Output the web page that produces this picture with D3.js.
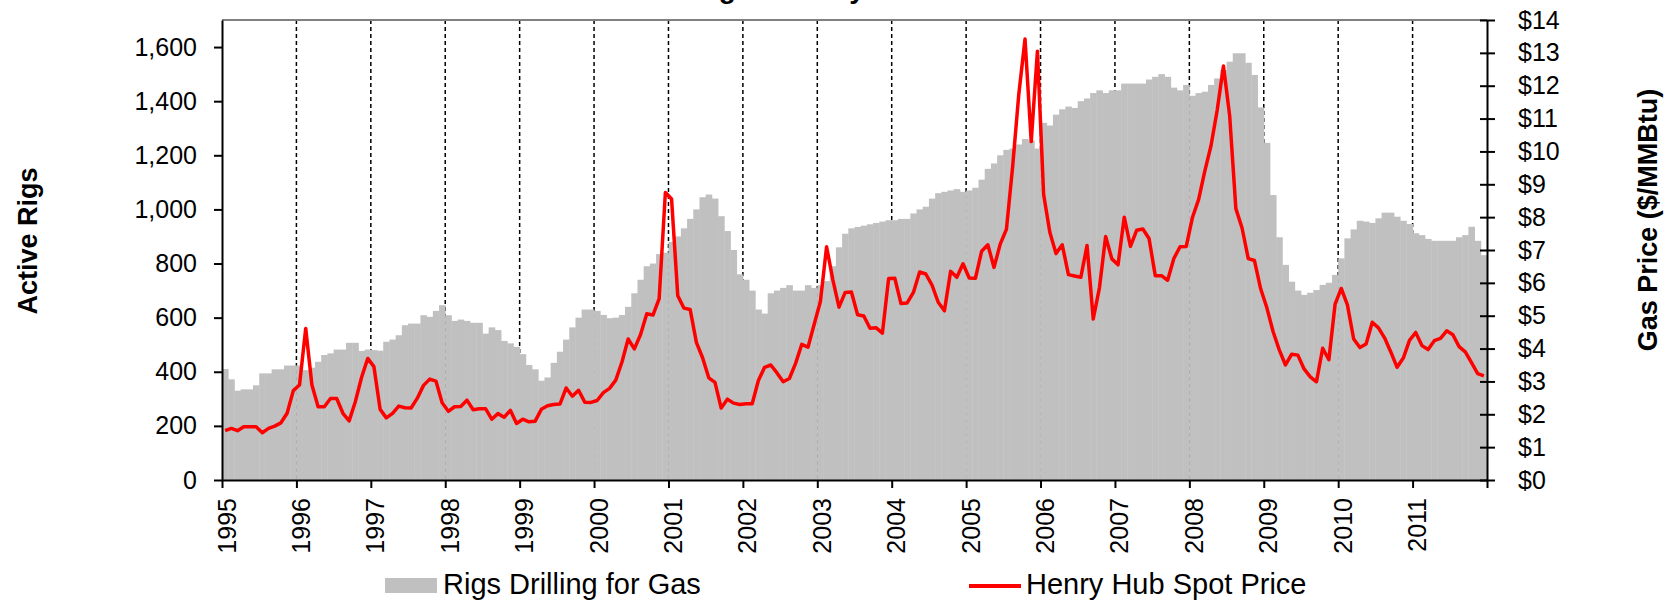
<!DOCTYPE html>
<html>
<head>
<meta charset="utf-8">
<script src="https://cdn.jsdelivr.net/npm/d3@7"></script>
<style>
  body { margin: 0; background: #fff; }
  text { font-family: "Liberation Sans", Arial, sans-serif; fill: #000; }
</style>
</head>
<body>
<div id="chart"></div>
<script>
var width = 1669,
    height = 601;

// monthly data, Jan 1995 .. Dec 2011
var years = d3.range(1995, 2012);

var rigs = [
  410, 372, 330, 335, 335, 350, 394, 394, 409, 409, 423, 423,
  423, 406, 415, 437, 462, 468, 482, 482, 507, 507, 477, 482,
  480, 478, 511, 519, 535, 572, 578, 578, 609, 603, 625, 646,
  609, 588, 593, 588, 581, 581, 541, 564, 554, 514, 505, 492,
  465, 425, 409, 367, 379, 433, 474, 519, 564, 600, 630, 630,
  625, 610, 598, 600, 610, 640, 690, 740, 790, 800, 835, 840,
  880, 900, 930, 965, 1000, 1045, 1055, 1040, 975, 920, 850, 760,
  740, 700, 630, 615, 690, 700, 710, 720, 700, 700, 720, 710,
  720, 735, 790, 860, 910, 930, 935, 940, 945, 950, 955, 960,
  960, 965, 965, 985, 1000, 1010, 1040, 1060, 1065, 1070, 1075, 1065,
  1070, 1080, 1110, 1150, 1170, 1200, 1220, 1225, 1240, 1260, 1255, 1225,
  1320, 1310, 1350, 1370, 1380, 1375, 1400, 1410, 1430, 1440, 1430, 1440,
  1440, 1465, 1465, 1465, 1465, 1480, 1490, 1500, 1490, 1450, 1440, 1460,
  1420, 1430, 1435, 1460, 1484, 1515, 1546, 1577, 1577, 1542, 1497, 1377,
  1246, 1053, 897, 795, 733, 700, 684, 692, 702, 721, 729, 758,
  819, 893, 926, 958, 955, 950, 967, 988, 988, 973, 958, 946,
  912, 905, 891, 884, 884, 884, 884, 897, 905, 936, 884, 831
];

var price = [
  1.50, 1.57, 1.50, 1.62, 1.62, 1.62, 1.44, 1.57, 1.64, 1.74, 2.03, 2.72,
  2.89, 4.61, 2.89, 2.23, 2.23, 2.48, 2.48, 2.03, 1.80, 2.38, 3.12, 3.70,
  3.45, 2.15, 1.89, 2.03, 2.25, 2.20, 2.19, 2.49, 2.88, 3.07, 3.01, 2.35,
  2.09, 2.23, 2.24, 2.43, 2.14, 2.17, 2.17, 1.85, 2.02, 1.91, 2.12, 1.72,
  1.85, 1.77, 1.79, 2.15, 2.26, 2.30, 2.31, 2.80, 2.55, 2.73, 2.37, 2.36,
  2.42, 2.66, 2.79, 3.04, 3.59, 4.29, 3.99, 4.43, 5.06, 5.02, 5.52, 8.75,
  8.55, 5.61, 5.23, 5.19, 4.19, 3.72, 3.11, 2.97, 2.19, 2.46, 2.34, 2.30,
  2.32, 2.32, 3.03, 3.43, 3.50, 3.26, 2.99, 3.09, 3.55, 4.13, 4.04, 4.74,
  5.43, 7.10, 6.10, 5.26, 5.71, 5.72, 5.03, 4.99, 4.62, 4.63, 4.47, 6.13,
  6.14, 5.37, 5.39, 5.71, 6.33, 6.27, 5.93, 5.41, 5.15, 6.35, 6.17, 6.58,
  6.15, 6.14, 6.96, 7.16, 6.47, 7.18, 7.63, 9.53, 11.75, 13.42, 10.30, 13.05,
  8.69, 7.54, 6.89, 7.16, 6.25, 6.21, 6.17, 7.14, 4.90, 5.85, 7.41, 6.73,
  6.55, 8.00, 7.11, 7.60, 7.64, 7.35, 6.22, 6.22, 6.08, 6.74, 7.10, 7.11,
  7.99, 8.54, 9.41, 10.18, 11.27, 12.60, 11.09, 8.26, 7.67, 6.74, 6.68, 5.82,
  5.24, 4.52, 3.96, 3.50, 3.83, 3.80, 3.38, 3.14, 2.99, 4.01, 3.66, 5.35,
  5.83, 5.32, 4.29, 4.03, 4.14, 4.80, 4.63, 4.32, 3.89, 3.43, 3.71, 4.25,
  4.49, 4.09, 3.97, 4.24, 4.31, 4.54, 4.42, 4.06, 3.90, 3.57, 3.24, 3.17
];

var rigTicks = d3.range(0, 1601, 200);
var priceTicks = d3.range(0, 15, 1);

var months = d3.range(rigs.length);

var plotLeft = 222, plotRight = 1487, plotTop = 20, plotBottom = 480;

var svg = d3.select("#chart").append("svg")
    .attr("width", width).attr("height", height);

var x = d3.scaleBand().domain(months).range([plotLeft, plotRight]).padding(0);
var xYear = d3.scaleLinear().domain([1995, 2012]).range([plotLeft, plotRight]);
var yRigs = d3.scaleLinear().domain([0, 1700]).range([plotBottom, plotTop]);
var yPrice = d3.scaleLinear().domain([0, 14]).range([plotBottom, plotTop]);

// title (cut off at top of the picture)
svg.append("text")
    .attr("x", 630).attr("y", -2)
    .style("font-size", "28px").style("font-weight", "bold")
    .text("Gas Rig Count by Month");

// year dividers
svg.append("g").selectAll("line")
  .data(d3.range(1996, 2012))
  .enter().append("line")
    .attr("x1", function(d) { return xYear(d); })
    .attr("x2", function(d) { return xYear(d); })
    .attr("y1", plotTop).attr("y2", plotBottom)
    .attr("stroke", "#000")
    .attr("stroke-width", 1.5)
    .attr("stroke-dasharray", "4,3");

// rig bars
svg.append("g").selectAll("rect")
  .data(months)
  .enter().append("rect")
    .attr("x", function(d) { return x(d); })
    .attr("width", x.bandwidth() + 0.4)
    .attr("y", function(d) { return yRigs(rigs[d]); })
    .attr("height", function(d) { return plotBottom - yRigs(rigs[d]); })
    .attr("fill", "#c0c0c0");

// price line
var line = d3.line()
    .x(function(d) { return x(d) + x.bandwidth() / 2; })
    .y(function(d) { return yPrice(price[d]); });

svg.append("path")
    .datum(months)
    .attr("d", line)
    .attr("fill", "none")
    .attr("stroke", "#ff0000")
    .attr("stroke-width", 3.5)
    .attr("stroke-linejoin", "round");

// top border
svg.append("line")
    .attr("x1", plotLeft).attr("x2", plotRight)
    .attr("y1", plotTop).attr("y2", plotTop)
    .attr("stroke", "#808080").attr("stroke-width", 2);

// left axis
var gLeft = svg.append("g")
    .attr("transform", "translate(" + plotLeft + ",0)")
    .call(d3.axisLeft(yRigs).tickValues(rigTicks).tickFormat(d3.format(",")).tickSize(8).tickSizeOuter(0).tickPadding(17));

// right axis
var gRight = svg.append("g")
    .attr("transform", "translate(" + plotRight + ",0)")
    .call(d3.axisRight(yPrice).tickValues(priceTicks).tickFormat(function(d) { return "$" + d; }).tickSize(8).tickSizeOuter(0).tickPadding(23));
gRight.selectAll(".tick line").attr("x1", -7).attr("x2", 8);

// bottom axis
var gBottom = svg.append("g")
    .attr("transform", "translate(0," + plotBottom + ")")
    .call(d3.axisBottom(xYear).tickValues(d3.range(1995, 2013)).tickFormat(function(d) { return d < 2012 ? d : ""; }).tickSize(8).tickSizeOuter(0));
gBottom.selectAll(".tick text")
    .attr("transform", "rotate(-90)")
    .attr("text-anchor", "end")
    .attr("x", -18).attr("y", 13).attr("dy", 0);

[gLeft, gRight, gBottom].forEach(function(g) {
  g.select(".domain").attr("stroke", "#000").attr("stroke-width", 2);
  g.selectAll(".tick line").attr("stroke", "#000").attr("stroke-width", 2);
  g.selectAll(".tick text").style("font-size", "25px")
    .style("font-family", "'Liberation Sans', Arial, sans-serif").attr("fill", "#000");
});

// axis titles
svg.append("text")
    .attr("transform", "translate(37,241) rotate(-90)")
    .attr("text-anchor", "middle")
    .style("font-size", "27px").style("font-weight", "bold")
    .text("Active Rigs");

svg.append("text")
    .attr("transform", "translate(1657,220) rotate(-90)")
    .attr("text-anchor", "middle")
    .style("font-size", "27px").style("font-weight", "bold")
    .text("Gas Price ($/MMBtu)");

// legend
svg.append("rect")
    .attr("x", 385).attr("y", 578).attr("width", 52).attr("height", 15)
    .attr("fill", "#c0c0c0");
svg.append("text")
    .attr("x", 443).attr("y", 594)
    .style("font-size", "29px")
    .text("Rigs Drilling for Gas");

svg.append("line")
    .attr("x1", 969).attr("x2", 1021).attr("y1", 586).attr("y2", 586)
    .attr("stroke", "#ff0000").attr("stroke-width", 4);
svg.append("text")
    .attr("x", 1026).attr("y", 594)
    .style("font-size", "29px")
    .text("Henry Hub Spot Price");
</script>
</body>
</html>
